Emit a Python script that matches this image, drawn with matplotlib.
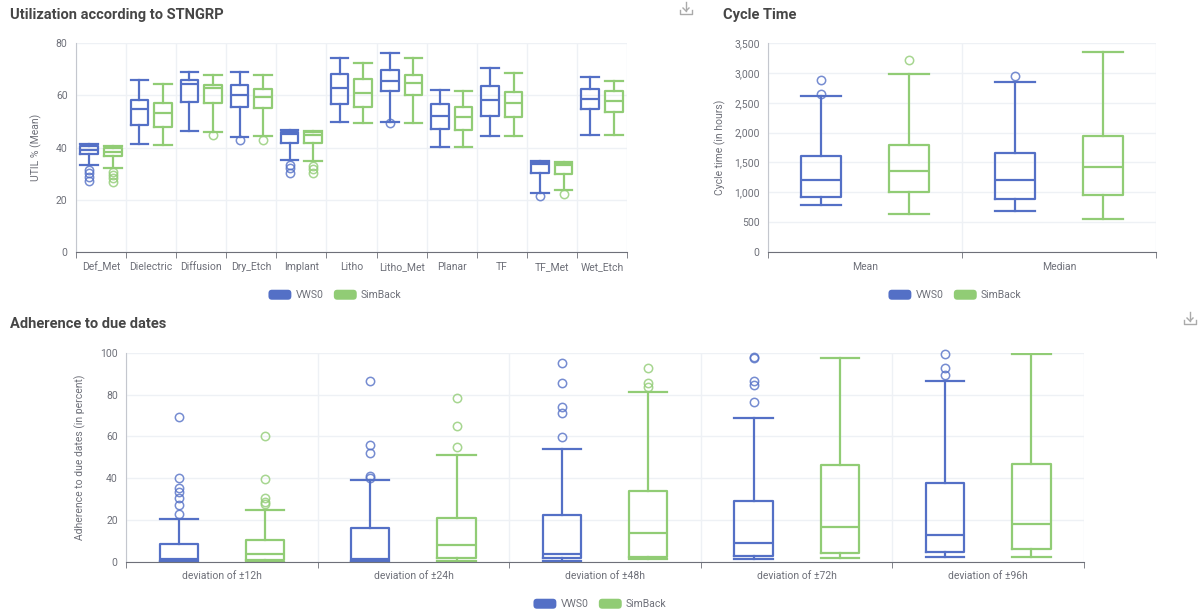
# Boxplots: utilizacao, tempo de ciclo e aderencia aos prazos

import numpy as np
import matplotlib.pyplot as plt
from matplotlib.patches import Patch, FancyBboxPatch
from matplotlib.lines import Line2D
from matplotlib.legend_handler import HandlerPatch
from matplotlib.ticker import FuncFormatter

plt.rcParams['font.family'] = ['Roboto', 'DejaVu Sans']

azul = '#5470c6'
verde = '#91cc75'
cinza = '#6e7079'
grade = '#eef1f5'

# dados: [min, q1, mediana, q3, max]
grupos = ['Def_Met', 'Dielectric', 'Diffusion', 'Dry_Etch', 'Implant', 'Litho',
          'Litho_Met', 'Planar', 'TF', 'TF_Met', 'Wet_Etch']
util_vws0 = [[33.3, 37.5, 39.2, 40.5, 41.3], [41.3, 48.6, 54.6, 58.2, 65.8],
             [46.4, 57.5, 64.2, 65.8, 68.8], [44.1, 55.6, 60.1, 63.9, 69.0],
             [35.2, 41.8, 45.0, 46.0, 46.7], [49.6, 56.6, 62.6, 68.1, 74.4],
             [49.8, 61.7, 65.5, 69.7, 76.3], [40.3, 47.0, 52.2, 56.5, 61.9],
             [44.5, 52.2, 58.2, 63.5, 70.3], [22.7, 30.1, 33.6, 34.6, 34.9],
             [44.8, 54.6, 58.6, 62.4, 66.9]]
util_vws0_out = [[31.5, 30.2, 28.7, 27.3], [], [], [42.9], [33.3, 32.0, 30.4], [],
                 [49.3], [], [], [21.4], []]
util_sim = [[32.3, 36.7, 38.4, 39.8, 40.7], [41.0, 48.0, 53.1, 56.9, 64.2],
            [45.8, 56.9, 62.6, 63.9, 67.6], [44.5, 55.0, 59.2, 62.3, 67.8],
            [34.8, 41.6, 44.8, 45.9, 46.3], [49.5, 55.6, 61.0, 66.2, 72.2],
            [49.5, 60.1, 64.6, 67.8, 74.4], [40.3, 46.7, 51.5, 55.6, 61.6],
            [44.5, 51.5, 56.9, 61.4, 68.4], [23.7, 29.9, 33.2, 34.2, 34.4],
            [44.8, 53.7, 57.9, 61.7, 65.5]]
util_sim_out = [[30.7, 29.5, 28.2, 26.9], [], [44.6], [42.9], [33.0, 31.6, 30.1], [],
                [], [], [], [22.2], []]

ciclo_cat = ['Mean', 'Median']
ciclo_vws0 = [[787, 921, 1212, 1603, 2612], [687, 883, 1201, 1665, 2842]]
ciclo_vws0_out = [[2875, 2646], [2943]]
ciclo_sim = [[643, 1005, 1363, 1799, 2988], [559, 950, 1424, 1943, 3350]]
ciclo_sim_out = [[3210], []]

desvio_cat = ['deviation of ±12h', 'deviation of ±24h', 'deviation of ±48h',
              'deviation of ±72h', 'deviation of ±96h']
ader_vws0 = [[0, 0.4, 1.1, 8.3, 20.3], [0, 0.5, 1.5, 16.0, 39.1],
             [0.5, 1.6, 3.5, 22.3, 53.8], [1.5, 2.7, 8.8, 29.0, 68.9],
             [2.1, 4.8, 12.8, 37.5, 86.6]]
ader_vws0_out = [[69.4, 40.2, 35.4, 33.5, 30.3, 27.1, 22.7],
                 [86.5, 55.8, 51.9, 41.2, 40.2],
                 [95.2, 85.6, 74.2, 71.0, 59.8],
                 [97.8, 97.5, 86.5, 84.5, 76.6],
                 [99.2, 92.8, 89.2]]
ader_sim = [[0, 0.8, 3.5, 10.4, 24.7], [0.2, 1.6, 8.0, 21.1, 51.1],
            [1.1, 2.4, 13.9, 34.0, 81.3], [1.6, 4.3, 16.8, 46.1, 97.6],
            [2.1, 6.1, 18.0, 46.6, 99.2]]
ader_sim_out = [[60.1, 39.6, 30.6, 28.7, 27.5], [78.5, 65.1, 54.7],
                [92.5, 85.6, 83.4], [], []]


def monta_stats(cinco, outs):
    return [dict(whislo=c[0], q1=c[1], med=c[2], q3=c[3], whishi=c[4], fliers=o)
            for c, o in zip(cinco, outs)]


def desenha(ax, cats, a, a_out, b, b_out, desl, larg, ymax, passo):
    x = np.arange(len(cats))
    for serie, outs, cor, sinal in [(a, a_out, azul, -1), (b, b_out, verde, 1)]:
        linha = dict(color=cor, lw=1.6)
        ax.bxp(monta_stats(serie, outs), positions=x + sinal * desl, widths=larg,
               capwidths=larg, boxprops=linha, whiskerprops=linha, capprops=linha,
               medianprops=linha,
               flierprops=dict(marker='o', mfc='none', mec=cor, ms=6, mew=1.1,
                               alpha=0.8, clip_on=False),
               manage_ticks=False)
    ax.set_xlim(-0.5, len(cats) - 0.5)
    ax.set_ylim(0, ymax)
    ax.set_yticks(np.arange(0, ymax + 1, passo))
    ax.set_xticks(x)
    ax.set_xticklabels(cats)
    ax.set_xticks(np.arange(len(cats) + 1) - 0.5, minor=True)
    ax.tick_params(axis='x', which='major', length=0, pad=7, labelsize=7.5, labelcolor=cinza)
    ax.tick_params(axis='x', which='minor', length=4, color=cinza)
    ax.tick_params(axis='y', length=0, pad=6, labelsize=7.5, labelcolor=cinza)
    ax.grid(axis='y', which='major', color=grade, lw=1)
    ax.grid(axis='x', which='minor', color=grade, lw=1)
    ax.set_axisbelow(True)
    for lado in ['top', 'right']:
        ax.spines[lado].set_visible(False)
    ax.spines['left'].set_color('#c4c7ce')
    ax.spines['bottom'].set_color(cinza)


class Arredondado(HandlerPatch):
    def create_artists(self, legend, orig, xd, yd, w, h, fs, trans):
        p = FancyBboxPatch((-xd, -yd), w, h, boxstyle='round,pad=0,rounding_size=2.5',
                           facecolor=orig.get_facecolor(), edgecolor='none', transform=trans)
        return [p]


def legenda(fig, x, y):
    maos = [Patch(facecolor=azul, label='VWS0'),
            Patch(facecolor=verde, label='SimBack')]
    fig.legend(handles=maos, loc='center', bbox_to_anchor=(x, y), ncol=2, frameon=False,
               fontsize=7.5, labelcolor=cinza, handlelength=2.2, handleheight=1.1,
               handletextpad=0.4, columnspacing=1.0,
               handler_map={Patch: Arredondado()})


def icone(fig, px, py):
    W, H = fig.get_size_inches() * fig.dpi
    c = '#aaaaaa'
    def L(xs, ys):
        fig.add_artist(Line2D([v / W for v in xs], [1 - v / H for v in ys], color=c, lw=1))
    L([px, px], [py - 6, py + 3])
    L([px - 3, px, px + 3], [py, py + 3, py])
    L([px - 6, px - 6, px + 6, px + 6], [py + 2, py + 6, py + 6, py + 2])


fig = plt.figure(figsize=(11.98, 6.16), dpi=100)

ax1 = fig.add_axes([0.0634, 0.5909, 0.46, 0.3393])
desenha(ax1, grupos, util_vws0, util_vws0_out, util_sim, util_sim_out, 0.235, 0.35, 80, 20)
ax1.set_ylabel('UTIL % (Mean)', color=cinza, fontsize=7.5, labelpad=10)

ax2 = fig.add_axes([0.641, 0.5909, 0.3239, 0.3393])
desenha(ax2, ciclo_cat, ciclo_vws0, ciclo_vws0_out, ciclo_sim, ciclo_sim_out, 0.227, 0.206, 3500, 500)
ax2.yaxis.set_major_formatter(FuncFormatter(lambda v, p: '{:,.0f}'.format(v)))
ax2.set_ylabel('Cycle time (in hours)', color=cinza, fontsize=7.5, labelpad=6)

ax3 = fig.add_axes([0.1052, 0.0881, 0.7997, 0.3393])
desenha(ax3, desvio_cat, ader_vws0, ader_vws0_out, ader_sim, ader_sim_out, 0.225, 0.2, 100, 20)
ax3.set_ylabel('Adherence to due dates (in percent)', color=cinza, fontsize=7.5, labelpad=10)

titulo = dict(fontsize=10.5, fontweight='bold', color='#464646', va='center', ha='left')
fig.text(10 / 1198, 1 - 15 / 616, 'Utilization according to STNGRP', **titulo)
fig.text(723 / 1198, 1 - 15 / 616, 'Cycle Time', **titulo)
fig.text(10 / 1198, 1 - 324 / 616, 'Adherence to due dates', **titulo)

legenda(fig, 335 / 1198, 1 - 295 / 616)
legenda(fig, 955 / 1198, 1 - 295 / 616)
legenda(fig, 600 / 1198, 1 - 604 / 616)

icone(fig, 686, 8)
icone(fig, 1190, 318)

fig.savefig('out.png', dpi=100)
